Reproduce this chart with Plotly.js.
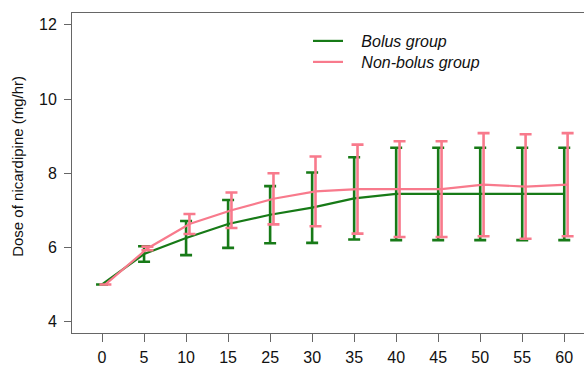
<!DOCTYPE html>
<html>
<head>
<meta charset="utf-8">
<script src="https://cdn.plot.ly/plotly-3.0.1.min.js"></script>
<style>html,body{margin:0;padding:0;background:#fff;}#chart{width:584px;height:367px;}</style>
</head>
<body>
<div id="chart"></div>
<script>
const times = ['0','5','10','15','25','30','35','40','45','50','55','60'];
const bolusMean = [5.0, 5.82, 6.25, 6.63, 6.88, 7.07, 7.32, 7.44, 7.44, 7.44, 7.44, 7.44];
const bolusSD   = [0.0, 0.21, 0.46, 0.645, 0.77, 0.95, 1.11, 1.245, 1.245, 1.245, 1.245, 1.245];
const nonBolusMean = [5.0, 5.97, 6.63, 7.0, 7.31, 7.51, 7.57, 7.57, 7.57, 7.69, 7.64, 7.69];
const nonBolusSD   = [0.0, 0.05, 0.27, 0.48, 0.69, 0.94, 1.2, 1.29, 1.29, 1.39, 1.41, 1.39];
const yTicks = [4, 6, 8, 10, 12];

const green = '#177a17';
const pink = '#f87a8c';
const idx = times.map((t, i) => i);
const shift = 0.08;
const gap = '&nbsp;&nbsp;&nbsp;';

const traces = [
  {
    x: idx, y: bolusMean, name: gap + '<i>Bolus group</i>', type: 'scatter', mode: 'lines',
    legend: 'legend',
    line: {color: green, width: 2.2},
    error_y: {type: 'data', array: bolusSD, visible: true, color: green, thickness: 2.6, width: 6}
  },
  {
    x: idx.map(i => i + shift), y: nonBolusMean, name: gap + '<i>Non-bolus group</i>', type: 'scatter', mode: 'lines',
    legend: 'legend2',
    line: {color: pink, width: 2.2},
    error_y: {type: 'data', array: nonBolusSD, visible: true, color: pink, thickness: 2.6, width: 6}
  }
];

const fam = '"Liberation Sans", Arial, sans-serif';
const tickFont = {family: fam, size: 16, color: '#111'};
const legFont = {family: fam, size: 16, color: '#111'};

const layout = {
  width: 584, height: 367,
  margin: {l: 72, r: 0, t: 13, b: 34, pad: 0},
  paper_bgcolor: '#fff', plot_bgcolor: '#fff',
  font: {family: fam, size: 16, color: '#111'},
  showlegend: true,
  legend: {x: 0.4609, y: 0.9656, xanchor: 'left', yanchor: 'top', bgcolor: 'rgba(0,0,0,0)', font: legFont},
  legend2: {x: 0.4609, y: 0.9, xanchor: 'left', yanchor: 'top', bgcolor: 'rgba(0,0,0,0)', font: legFont},
  xaxis: {
    range: [-0.715, 11.47], tickmode: 'array', tickvals: idx, ticktext: times,
    showgrid: false, zeroline: false, showline: true, mirror: true, linecolor: '#666', linewidth: 1,
    ticks: 'outside', ticklen: 8, tickcolor: '#666', tickfont: tickFont, ticklabelstandoff: 2
  },
  yaxis: {
    range: [3.69, 12.32], tickmode: 'array', tickvals: yTicks,
    showgrid: false, zeroline: false, showline: true, mirror: false, linecolor: '#666', linewidth: 1,
    ticks: 'outside', ticklen: 7, tickcolor: '#666', tickfont: tickFont, ticklabelstandoff: 4
  },
  annotations: [{
    text: 'Dose of nicardipine (mg/hr)', textangle: -90, xref: 'paper', yref: 'paper',
    x: -0.107, y: 0.52, xanchor: 'center', yanchor: 'middle', showarrow: false,
    font: {family: fam, size: 15, color: '#111'}
  }]
};

Plotly.newPlot('chart', traces, layout, {displayModeBar: false, staticPlot: true});
</script>
</body>
</html>
